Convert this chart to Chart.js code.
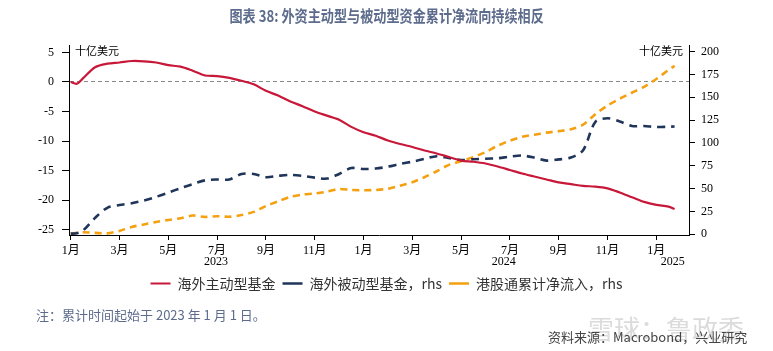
<!DOCTYPE html>
<html><head><meta charset="utf-8">
<script src="https://cdn.jsdelivr.net/npm/chart.js@4/dist/chart.umd.min.js"></script>
<style>
html,body{margin:0;padding:0;background:#fff;}
#wrap{position:relative;width:773px;height:351px;overflow:hidden;background:#fff;}
#c{position:absolute;left:0;top:0;}
.t{position:absolute;white-space:nowrap;font-family:"Noto Sans CJK SC","Noto Sans",sans-serif;}
</style></head><body>
<div id="wrap">
<canvas id="c" width="773" height="351"></canvas>
<div class="t" style="left:0;width:773px;text-align:center;top:3px;font-size:16px;font-weight:bold;color:#5d6c8c;"><span style="display:inline-block;transform:scaleX(0.82);">图表 38: 外资主动型与被动型资金累计净流向持续相反</span></div>
<div class="t" style="left:36px;top:305px;font-size:13px;color:#5d6c8c;">注：累计时间起始于 2023 年 1 月 1 日。</div>
<div class="t" style="left:588px;top:309px;font-size:26px;color:rgba(190,190,190,0.55);">雪球：鲁政委</div>
<div class="t" style="left:548px;top:327px;font-size:13px;color:#444;">资料来源：Macrobond，兴业研究</div>
</div>
<script>
// x positions in months since 1 Jan 2023
const monthsX = [0,0.25,0.5,1,1.5,2,2.5,3,3.5,4,4.5,5,5.5,6,6.5,7,7.5,8,8.5,9,9.5,10,10.5,11,11.5,12,12.5,13,13.5,14,14.5,15,15.5,16,16.5,17,17.5,18,18.5,19,19.5,20,20.5,21,21.5,22,22.5,23,23.5,24,24.5,24.75];
// 海外主动型基金 (left axis, 十亿美元)
const activeFunds = [0,-0.3,0.6,2.5,3.1,3.3,3.55,3.5,3.3,2.85,2.6,1.9,1.1,1.0,0.7,0.2,-0.4,-1.5,-2.3,-3.3,-4.1,-5.0,-5.7,-6.4,-7.6,-8.5,-9.1,-9.9,-10.5,-11.0,-11.6,-12.1,-12.7,-13.3,-13.5,-13.8,-14.3,-14.9,-15.5,-16.0,-16.5,-17.0,-17.3,-17.6,-17.7,-18.0,-18.7,-19.5,-20.3,-20.8,-21.1,-21.5];
// 海外被动型基金 (right axis)
const passiveFunds = [0.7,1,4,18,29,32,34,37,41,45.6,50.5,55,59,60,60,66,66,62.5,64,65,64,62,61,66,72.5,71.5,72,74,77,79.5,82.5,85.5,83.5,81.3,82.2,82.7,83.3,85,86.2,84,80.7,82,84,92,123,127,123.5,118.6,118.6,117.5,117.8,118];
// 港股通累计净流入 (right axis)
const southbound = [0.7,1.5,2.2,1.5,1.0,3.7,8,10.7,13.5,15.7,17.5,20.5,19,19.8,19.2,21,24.5,31,36,41,43.5,44.7,46.7,49.5,48.5,48.2,48.5,49.9,53.2,57,62.5,69,76,80,84.5,90,97,102.5,106.7,109,111.3,113,115,120,131.5,141,148.5,155,161.5,170,180,184.5];

const seriesNames = ['海外主动型基金','海外被动型基金，rhs','港股通累计净流入，rhs'];
const xTickMonths = [0,2,4,6,8,10,12,14,16,18,20,22,24];
const xTickLabels = ['1月','3月','5月','7月','9月','11月','1月','3月','5月','7月','9月','11月','1月'];
const yearLabels = ['2023','2024','2025'];
const yearLabelMonths = [5.95,17.75,24.67];
const leftTicks = [-25,-20,-15,-10,-5,0,5];
const rightTicks = [0,25,50,75,100,125,150,175,200];
const unitLabel = '十亿美元';

const pts = arr => arr.map((v,i)=>({x:monthsX[i], y:v}));
const serif = '"Liberation Serif","Noto Sans CJK SC",serif';
const cjk = '"Noto Sans CJK SC","Noto Sans",sans-serif';

const extras = {
  id:'extras',
  afterDraw(chart){
    const {ctx, chartArea, scales} = chart;
    const x = scales.x;
    ctx.save();
    ctx.fillStyle = '#000';
    ctx.textBaseline = 'middle';
    ctx.textAlign = 'center';
    ctx.font = '12px ' + serif;
    yearLabels.forEach((t,i)=>ctx.fillText(t, x.getPixelForValue(yearLabelMonths[i]), 262));
    ctx.font = '11px ' + cjk;
    ctx.textAlign = 'left';
    ctx.fillText(unitLabel, chartArea.left + 6, chartArea.top + 6);
    ctx.textAlign = 'right';
    ctx.fillText(unitLabel, chartArea.right - 6, chartArea.top + 6);
    ctx.restore();
  }
};

new Chart(document.getElementById('c'), {
  type:'line',
  data:{datasets:[
    {label:seriesNames[0], data:pts(activeFunds), yAxisID:'y', borderColor:'#c8183a', borderWidth:2.2, pointRadius:0, pointStyle:'line', tension:0.3, order:1},
    {label:seriesNames[1], data:pts(passiveFunds), yAxisID:'y1', borderColor:'#1f3559', borderWidth:2.6, borderDash:[8,6], pointRadius:0, pointStyle:'line', tension:0.3, order:2},
    {label:seriesNames[2], data:pts(southbound), yAxisID:'y1', borderColor:'#f5a00f', borderWidth:2.6, borderDash:[7,5], pointRadius:0, pointStyle:'line', tension:0.3, order:3}
  ]},
  options:{
    responsive:false, animation:false, devicePixelRatio:1,
    layout:{padding:{top:45,left:0,right:0,bottom:50.5}},
    plugins:{
      legend:{position:'bottom', labels:{usePointStyle:true, pointStyleWidth:20, padding:7, color:'#333', font:{family:cjk, size:14}}},
      tooltip:{enabled:false}
    },
    scales:{
      x:{type:'linear', min:-0.07, max:25.34,
        afterBuildTicks:s=>{s.ticks = xTickMonths.map(v=>({value:v}));},
        afterFit:s=>{s.height = 34.5;},
        ticks:{callback:(v,i)=>xTickLabels[i], color:'#000', padding:4, maxRotation:0, autoSkip:false, font:{family:serif, size:12}},
        grid:{drawOnChartArea:false, tickLength:5, tickColor:'#000'},
        border:{color:'#000', width:1}
      },
      y:{position:'left', min:-25.9, max:6.26,
        afterBuildTicks:s=>{s.ticks = leftTicks.map(v=>({value:v}));},
        afterFit:s=>{s.width = 69;},
        ticks:{color:'#000', padding:8, font:{family:serif, size:12}},
        grid:{color:c=>(c.tick && c.tick.value===0)?'#888':'rgba(0,0,0,0)', lineWidth:1, tickLength:7, tickColor:'#000'},
        border:{color:'#000', width:1, dash:[4,3]}
      },
      y1:{position:'right', min:-0.8, max:207.3,
        afterBuildTicks:s=>{s.ticks = rightTicks.map(v=>({value:v}));},
        afterFit:s=>{s.width = 84;},
        ticks:{color:'#000', padding:6, font:{family:serif, size:12}},
        grid:{drawOnChartArea:false, tickLength:6, tickColor:'#000'},
        border:{color:'#000', width:1}
      }
    }
  },
  plugins:[extras]
});
</script>
</body></html>
